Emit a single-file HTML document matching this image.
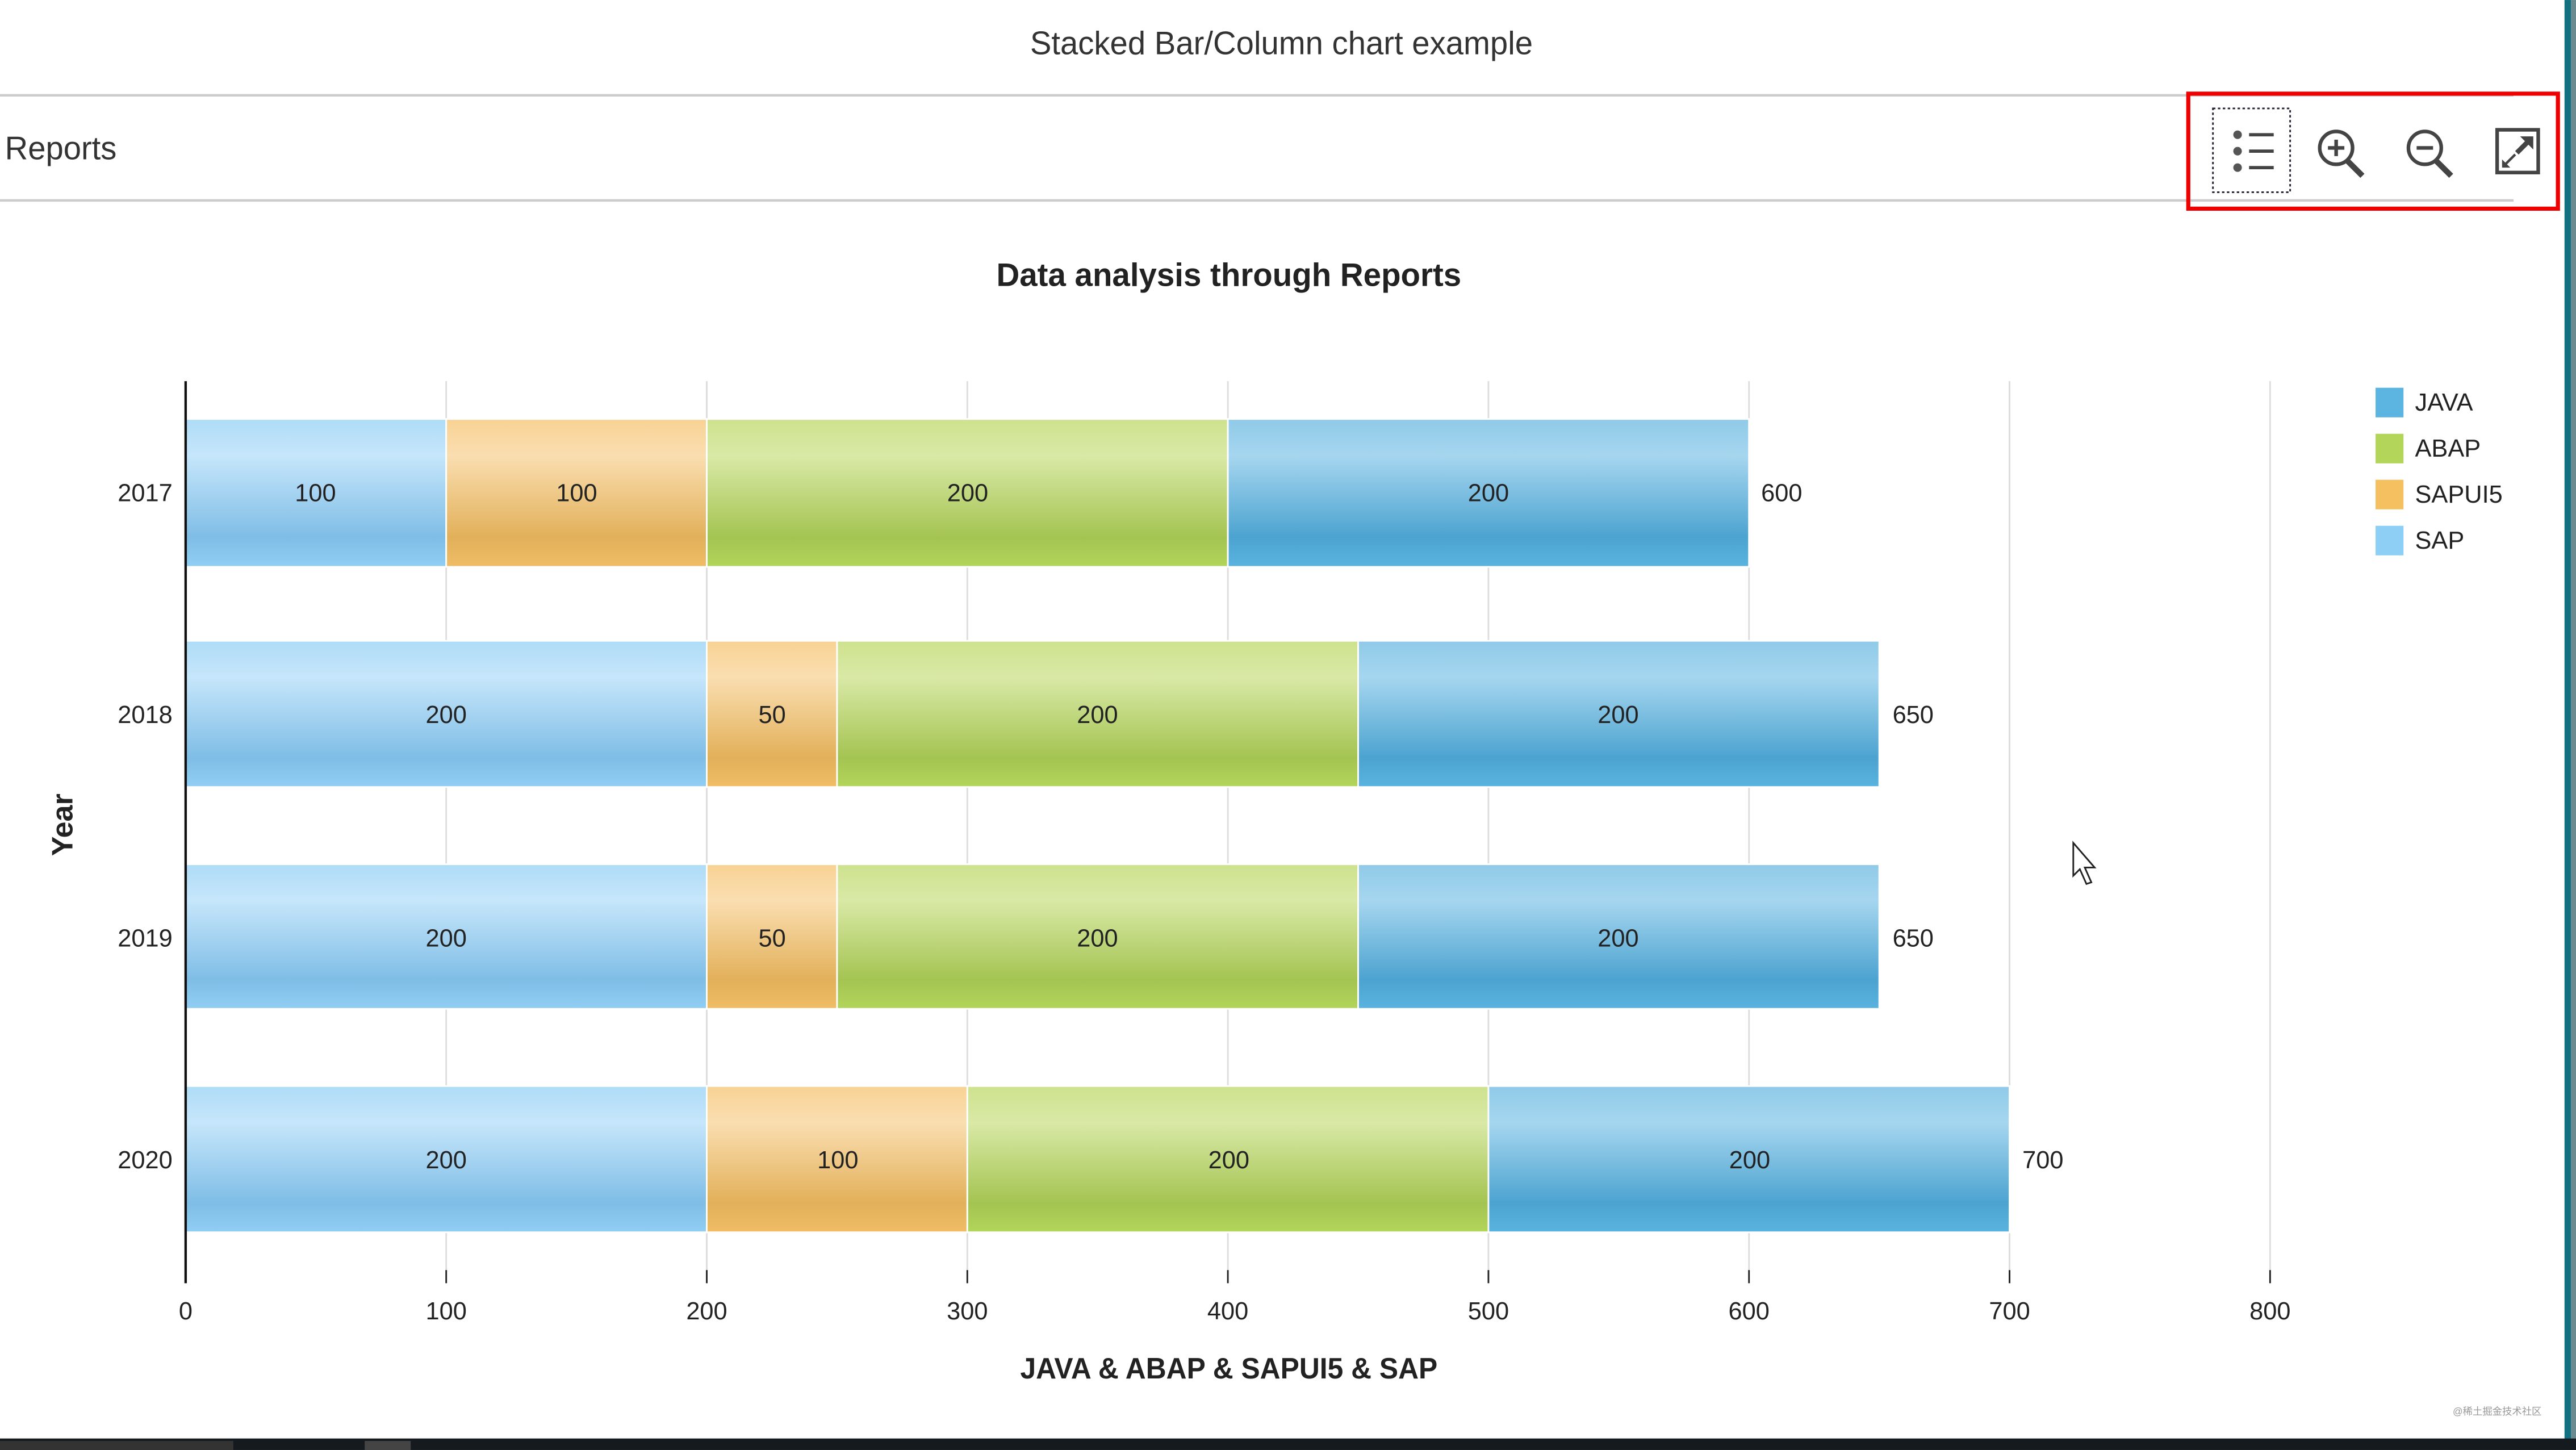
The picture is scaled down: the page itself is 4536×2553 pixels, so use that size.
<!DOCTYPE html>
<html><head><meta charset="utf-8"><style>html,body{margin:0;padding:0;background:#fff;overflow:hidden}svg{display:block}text{font-family:"Liberation Sans",sans-serif}</style></head>
<body>
<svg width="4536" height="2553" viewBox="0 0 1568 882.5" xmlns="http://www.w3.org/2000/svg">
<defs>
<linearGradient id="gSAP" x1="0" y1="0" x2="0" y2="1"><stop offset="0" stop-color="#aedcf7"/><stop offset=".25" stop-color="#c6e6fb"/><stop offset=".8" stop-color="#7fbde6"/><stop offset="1" stop-color="#90cef4"/></linearGradient>
<linearGradient id="gUI5" x1="0" y1="0" x2="0" y2="1"><stop offset="0" stop-color="#f8d294"/><stop offset=".25" stop-color="#fadeb0"/><stop offset=".8" stop-color="#e2b05a"/><stop offset="1" stop-color="#f0bd66"/></linearGradient>
<linearGradient id="gABAP" x1="0" y1="0" x2="0" y2="1"><stop offset="0" stop-color="#cde28e"/><stop offset=".25" stop-color="#d9e9a6"/><stop offset=".8" stop-color="#a4c452"/><stop offset="1" stop-color="#b2d55a"/></linearGradient>
<linearGradient id="gJAVA" x1="0" y1="0" x2="0" y2="1"><stop offset="0" stop-color="#8fcae8"/><stop offset=".25" stop-color="#a6d6ef"/><stop offset=".8" stop-color="#4ca3d0"/><stop offset="1" stop-color="#5ab3df"/></linearGradient>
</defs>
<rect width="1568" height="882.5" fill="#fff"/>
<text x="780" y="33" font-size="20" fill="#333" text-anchor="middle" textLength="306" lengthAdjust="spacingAndGlyphs">Stacked Bar/Column chart example</text>
<line x1="0" y1="58" x2="1530" y2="58" stroke="#ccc" stroke-width="1.5"/>
<line x1="0" y1="122" x2="1530" y2="122" stroke="#ccc" stroke-width="1.5"/>
<text x="3" y="97" font-size="20" fill="#333" textLength="68" lengthAdjust="spacingAndGlyphs">Reports</text>
<rect x="1332" y="57" width="225" height="70" fill="none" stroke="#e00" stroke-width="2.5"/>
<rect x="1347" y="66" width="47" height="51" fill="none" stroke="#223" stroke-width="1" stroke-dasharray="1.5,1.5"/>
<g fill="#555"><circle cx="1362" cy="82" r="2.6"/><circle cx="1362" cy="92" r="2.6"/><circle cx="1362" cy="102" r="2.6"/></g>
<g stroke="#444" stroke-width="2"><line x1="1369" y1="82" x2="1384" y2="82"/><line x1="1369" y1="92" x2="1384" y2="92"/><line x1="1369" y1="102" x2="1384" y2="102"/></g>
<g fill="none" stroke="#444" stroke-width="2.2"><circle cx="1422" cy="90" r="10"/><line x1="1429" y1="98" x2="1438" y2="107" stroke-width="3.5"/><line x1="1417" y1="90" x2="1427" y2="90"/><line x1="1422" y1="85" x2="1422" y2="95"/>
<circle cx="1476" cy="90" r="10"/><line x1="1483" y1="98" x2="1492" y2="107" stroke-width="3.5"/><line x1="1471" y1="90" x2="1481" y2="90"/>
<rect x="1520" y="79" width="25" height="26"/><line x1="1524" y1="101" x2="1531" y2="94" stroke-width="1.5"/><line x1="1532" y1="93" x2="1541" y2="84" stroke-width="3"/></g>
<polygon points="1534,83 1542,83 1542,91" fill="#444"/>
<polygon points="1523,102 1523,97 1528,102" fill="#444"/>
<rect x="1561" y="0" width="4" height="876" fill="#137080"/>
<rect x="1565" y="0" width="3" height="876" fill="#6a8a90"/>
<rect x="0" y="875.5" width="1568" height="7" fill="#151a1f"/>
<rect x="0" y="877" width="142" height="6" fill="#333"/>
<rect x="222" y="877" width="28" height="6" fill="#444"/>
<text x="748" y="174" font-size="20" font-weight="bold" fill="#222" text-anchor="middle" textLength="283" lengthAdjust="spacingAndGlyphs">Data analysis through Reports</text>
<g stroke="#ddd" stroke-width="1">
<line x1="271.6" y1="232" x2="271.6" y2="773"/><line x1="430.2" y1="232" x2="430.2" y2="773"/><line x1="588.8" y1="232" x2="588.8" y2="773"/><line x1="747.4" y1="232" x2="747.4" y2="773"/><line x1="906" y1="232" x2="906" y2="773"/><line x1="1064.6" y1="232" x2="1064.6" y2="773"/><line x1="1223.2" y1="232" x2="1223.2" y2="773"/><line x1="1381.8" y1="232" x2="1381.8" y2="773"/></g>
<g stroke="#222" stroke-width="1">
<line x1="271.6" y1="773" x2="271.6" y2="781"/><line x1="430.2" y1="773" x2="430.2" y2="781"/><line x1="588.8" y1="773" x2="588.8" y2="781"/><line x1="747.4" y1="773" x2="747.4" y2="781"/><line x1="906" y1="773" x2="906" y2="781"/><line x1="1064.6" y1="773" x2="1064.6" y2="781"/><line x1="1223.2" y1="773" x2="1223.2" y2="781"/><line x1="1381.8" y1="773" x2="1381.8" y2="781"/></g>
<g font-size="15" fill="#222" text-anchor="middle">
<text x="113" y="803">0</text><text x="271.6" y="803">100</text><text x="430.2" y="803">200</text><text x="588.8" y="803">300</text><text x="747.4" y="803">400</text><text x="906" y="803">500</text><text x="1064.6" y="803">600</text><text x="1223.2" y="803">700</text><text x="1381.8" y="803">800</text></g>
<text x="748" y="839" font-size="18" font-weight="bold" fill="#222" text-anchor="middle" textLength="254" lengthAdjust="spacingAndGlyphs">JAVA &amp; ABAP &amp; SAPUI5 &amp; SAP</text>
<text transform="translate(44,502) rotate(-90)" font-size="18" font-weight="bold" fill="#222" text-anchor="middle">Year</text>
<g stroke="#fff" stroke-width="1">
<rect x="113" y="255" width="158.6" height="90" fill="url(#gSAP)"/><rect x="271.6" y="255" width="158.6" height="90" fill="url(#gUI5)"/><rect x="430.2" y="255" width="317.2" height="90" fill="url(#gABAP)"/><rect x="747.4" y="255" width="317.2" height="90" fill="url(#gJAVA)"/>
<rect x="113" y="390" width="317.2" height="89" fill="url(#gSAP)"/><rect x="430.2" y="390" width="79.3" height="89" fill="url(#gUI5)"/><rect x="509.5" y="390" width="317.2" height="89" fill="url(#gABAP)"/><rect x="826.7" y="390" width="317.2" height="89" fill="url(#gJAVA)"/>
<rect x="113" y="526" width="317.2" height="88" fill="url(#gSAP)"/><rect x="430.2" y="526" width="79.3" height="88" fill="url(#gUI5)"/><rect x="509.5" y="526" width="317.2" height="88" fill="url(#gABAP)"/><rect x="826.7" y="526" width="317.2" height="88" fill="url(#gJAVA)"/>
<rect x="113" y="661" width="317.2" height="89" fill="url(#gSAP)"/><rect x="430.2" y="661" width="158.6" height="89" fill="url(#gUI5)"/><rect x="588.8" y="661" width="317.2" height="89" fill="url(#gABAP)"/><rect x="906" y="661" width="317.2" height="89" fill="url(#gJAVA)"/></g>
<line x1="113" y1="232" x2="113" y2="781" stroke="#111" stroke-width="1.5"/>
<g font-size="15" fill="#222" text-anchor="middle">
<text x="192" y="305">100</text><text x="351" y="305">100</text><text x="589" y="305">200</text><text x="906" y="305">200</text>
<text x="271.6" y="440">200</text><text x="470" y="440">50</text><text x="668" y="440">200</text><text x="985" y="440">200</text>
<text x="271.6" y="576">200</text><text x="470" y="576">50</text><text x="668" y="576">200</text><text x="985" y="576">200</text>
<text x="271.6" y="711">200</text><text x="510" y="711">100</text><text x="748" y="711">200</text><text x="1065" y="711">200</text></g>
<g font-size="15" fill="#222">
<text x="1072" y="305">600</text><text x="1152" y="440">650</text><text x="1152" y="576">650</text><text x="1231" y="711">700</text></g>
<g font-size="15" fill="#222" text-anchor="end">
<text x="105" y="305">2017</text><text x="105" y="440">2018</text><text x="105" y="576">2019</text><text x="105" y="711">2020</text></g>
<rect x="1446" y="236" width="17" height="18" fill="#5cb4e0"/><rect x="1446" y="264" width="17" height="18" fill="#b2d55a"/><rect x="1446" y="292" width="17" height="18" fill="#f5c060"/><rect x="1446" y="320" width="17" height="18" fill="#8dcff5"/>
<g font-size="15" fill="#222"><text x="1470" y="250">JAVA</text><text x="1470" y="278">ABAP</text><text x="1470" y="306">SAPUI5</text><text x="1470" y="334">SAP</text></g>
<polygon points="1262,513 1262,533 1266,529 1270,538 1273,537 1269,528 1275,528" fill="#fff" stroke="#222" stroke-width="1"/>
<text x="1493" y="861" font-size="6" fill="#999">@稀土掘金技术社区</text>
</svg>
</body></html>
